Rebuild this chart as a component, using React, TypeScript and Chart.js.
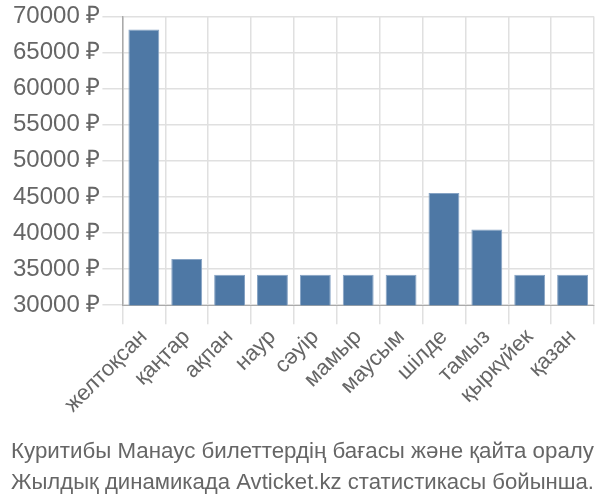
import React, { useEffect, useRef } from 'react';
import { Chart, registerables } from 'chart.js';
import type { ChartConfiguration } from 'chart.js';

Chart.register(...registerables);

const months = ['желтоқсан', 'қаңтар', 'ақпан', 'наур', 'сәуір', 'мамыр', 'маусым', 'шілде', 'тамыз', 'қыркүйек', 'қазан'];
const prices = [68200, 36400, 34200, 34200, 34200, 34200, 34200, 45550, 40500, 34200, 34200];
const caption = [
  'Куритибы Манаус билеттердің бағасы және қайта оралу',
  'Жылдық динамикада Avticket.kz статистикасы бойынша.',
];

const App: React.FC = () => {
  const chartRef = useRef<HTMLCanvasElement>(null);
  const chartInstanceRef = useRef<Chart | null>(null);

  useEffect(() => {
    if (!chartRef.current) return;
    if (chartInstanceRef.current) {
      chartInstanceRef.current.destroy();
    }
    const family = '"Liberation Sans", Arial, sans-serif';

    const config: ChartConfiguration = {
      type: 'bar',
      data: {
        labels: months,
        datasets: [{
          data: prices,
          backgroundColor: '#4e78a5',
          borderColor: '#86a3c4',
          borderWidth: 1,
        }]
      },
      options: {
        animation: false,
        responsive: true,
        maintainAspectRatio: false,
        layout: { padding: { top: 15, right: 6, left: 11, bottom: 0 } },
        plugins: {
          legend: { display: false },
          tooltip: { enabled: false },
          title: {
            display: true,
            position: 'bottom',
            text: caption,
            color: '#666',
            font: { family, size: 22.5, weight: 'normal', lineHeight: 1.38 },
            padding: { top: 18, bottom: 2 },
          }
        },
        scales: {
          x: {
            grid: { color: '#e0e0e0', lineWidth: 1.5, tickLength: 19, offset: true },
            border: { color: '#aaa' },
            ticks: { color: '#666', font: { family, size: 22 }, maxRotation: 45, minRotation: 45, padding: 0 },
          },
          y: {
            min: 30000,
            max: 70000,
            grid: { color: '#e0e0e0', lineWidth: 1.5, tickLength: 20 },
            border: { color: '#aaa', width: 1.5 },
            ticks: {
              color: '#666',
              font: { family, size: 24 },
              stepSize: 5000,
              padding: 2,
              callback: (v) => `${v} ₽`,
            },
          }
        }
      }
    };

    chartInstanceRef.current = new Chart(chartRef.current, config);

    return () => {
      if (chartInstanceRef.current) {
        chartInstanceRef.current.destroy();
        chartInstanceRef.current = null;
      }
    };
  }, []);

  return (
    <div style={{ position: 'absolute', left: 0, top: 0, width: 600, height: 500 }}>
      <canvas ref={chartRef}></canvas>
    </div>
  );
};

export default App;
